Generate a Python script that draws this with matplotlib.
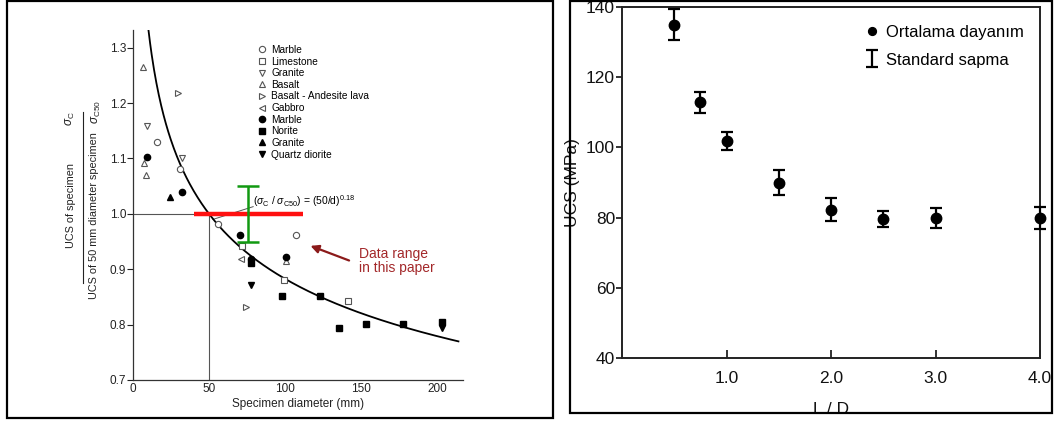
import numpy as np
import matplotlib
matplotlib.use("Agg")
import matplotlib.pyplot as plt
from matplotlib.patches import Rectangle
from matplotlib.lines import Line2D

plt.rcParams['font.family'] = ['Liberation Sans', 'DejaVu Sans']
plt.rcParams['mathtext.fontset'] = 'custom'
plt.rcParams['mathtext.rm'] = 'Liberation Sans'
plt.rcParams['mathtext.it'] = 'Liberation Sans:italic'

W, H = 1056, 423

# ---- left panel data (specimen diameter, normalised UCS) ----
marble_open_d = [15.6, 30.9, 55.7, 107]
marble_open_r = [1.13, 1.081, 0.981, 0.961]
limestone_d = [71.9, 99.5, 141.6]
limestone_r = [0.942, 0.881, 0.842]
granite_open_d = [9.0, 32]
granite_open_r = [1.158, 1.10]
basalt_d = [6.3, 7.2, 8.3, 100.6]
basalt_r = [1.266, 1.092, 1.07, 0.914]
andesite_d = [29.8, 74]
andesite_r = [1.219, 0.832]
gabbro_d = [71]
gabbro_r = [0.918]
marble_fill_d = [9.0, 32, 70.4, 100.6, 77.4]
marble_fill_r = [1.102, 1.039, 0.962, 0.922, 0.918]
norite_d = [77.4, 97.8, 123, 135.5, 153, 177.4, 203]
norite_r = [0.912, 0.852, 0.851, 0.794, 0.801, 0.801, 0.804]
granite_fill_d = [24.3]
granite_fill_r = [1.031]
quartz_d = [77.4, 203]
quartz_r = [0.872, 0.794]

curve_exp = 0.18
red_range = [40, 112]
green_d = 75.4
green_err = 0.05

# ---- right panel data ----
ld = [0.5, 0.75, 1.0, 1.5, 2.0, 2.5, 3.0, 4.0]
ucs = [135.0, 112.8, 101.8, 90.0, 82.2, 79.6, 79.8, 79.8]
ucs_sd = [4.5, 3.0, 2.6, 3.7, 3.3, 2.4, 2.8, 3.1]


def fx(px):
    return px / W


def fy(py):
    return 1 - py / H


fig = plt.figure(figsize=(W / 100, H / 100), dpi=100)

# panel frames
fig.add_artist(Rectangle((fx(7), fy(418)), fx(553) - fx(7), fy(1) - fy(418),
                         transform=fig.transFigure, fill=False, lw=1.6, ec='black'))
fig.add_artist(Rectangle((fx(570), fy(413)), fx(1052) - fx(570), fy(1) - fy(413),
                         transform=fig.transFigure, fill=False, lw=1.6, ec='black'))

# ================= left panel =================
ax1 = fig.add_axes([fx(133), fy(380), fx(463) - fx(133), fy(30) - fy(380)])
ax1.set_xlim(0, 217)
ax1.set_ylim(0.7, 1.332)
for s in ['top', 'right']:
    ax1.spines[s].set_visible(False)
for s in ['left', 'bottom']:
    ax1.spines[s].set_color('#333333')
    ax1.spines[s].set_linewidth(0.9)
ax1.set_xticks([0, 50, 100, 150, 200])
ax1.set_yticks([0.7, 0.8, 0.9, 1.0, 1.1, 1.2, 1.3])
ax1.set_yticklabels(['0.7', '0.8', '0.9', '1.0', '1.1', '1.2', '1.3'])
ax1.tick_params(axis='y', direction='out', length=4, width=0.8, pad=1,
                labelsize=8.5, colors='#222222')
ax1.tick_params(axis='x', length=0, pad=2, labelsize=8.5, colors='#222222')
ax1.set_xlabel('Specimen diameter (mm)', fontsize=8.5, labelpad=2, color='#222222')

d = np.linspace(6, 214, 400)
ax1.plot(d, (50 / d) ** curve_exp, color='black', lw=1.3, zorder=3)
ax1.plot([0, 50], [1.0, 1.0], color='#555555', lw=0.8, zorder=2)
ax1.plot([50, 50], [0.7, 1.0], color='#555555', lw=0.8, zorder=2)
ax1.plot([52.6, 79], [0.99, 1.013], color='#555555', lw=0.7, zorder=2)

ms = 4.5
oc = '#555555'
ax1.plot(marble_open_d, marble_open_r, 'o', ms=ms, mfc='white', mec=oc, mew=0.8, label='Marble', zorder=4)
ax1.plot(limestone_d, limestone_r, 's', ms=ms, mfc='white', mec=oc, mew=0.8, label='Limestone', zorder=4)
ax1.plot(granite_open_d, granite_open_r, 'v', ms=ms, mfc='white', mec=oc, mew=0.8, label='Granite', zorder=4)
ax1.plot(basalt_d, basalt_r, '^', ms=ms, mfc='white', mec=oc, mew=0.8, label='Basalt', zorder=4)
ax1.plot(andesite_d, andesite_r, '>', ms=ms, mfc='white', mec=oc, mew=0.8, label='Basalt - Andesite lava', zorder=4)
ax1.plot(gabbro_d, gabbro_r, '<', ms=ms, mfc='white', mec=oc, mew=0.8, label='Gabbro', zorder=4)
ax1.plot(marble_fill_d, marble_fill_r, 'o', ms=ms, color='black', label='Marble', zorder=4)
ax1.plot(norite_d, norite_r, 's', ms=ms, color='black', label='Norite', zorder=4)
ax1.plot(granite_fill_d, granite_fill_r, '^', ms=ms, color='black', label='Granite', zorder=4)
ax1.plot(quartz_d, quartz_r, 'v', ms=ms, color='black', label='Quartz diorite', zorder=4)

ax1.legend(loc='upper left', bbox_to_anchor=(fx(258), fy(45)), bbox_transform=fig.transFigure,
           frameon=False, fontsize=7.3, handlelength=0.8, handletextpad=0.5,
           labelspacing=0.16, borderpad=0, borderaxespad=0)

# red range line and green bar
ax1.plot(red_range, [1.0, 1.0], color='#ff1010', lw=3.2, solid_capstyle='butt', zorder=5)
ax1.errorbar([green_d], [1.0], yerr=[green_err], fmt='none', ecolor='#119911',
             elinewidth=1.8, capsize=8, capthick=1.8, zorder=6)

ax1.text(79, 1.023, r'($\sigma_\mathrm{C}$ / $\sigma_\mathrm{C50}$) = (50/d)$^{0.18}$',
         fontsize=7.5, va='center', ha='left', zorder=7)

ax1.annotate('', xy=(115, 0.944), xytext=(143.8, 0.914),
             arrowprops=dict(arrowstyle='-|>', color='#8b1a1a', lw=1.6, mutation_scale=12))
ax1.text(148.8, 0.941, 'Data range\nin this paper', color='#a3282a', fontsize=10,
         va='top', ha='left', linespacing=1.08)

# stacked y label of left panel
fig.text(fx(71), fy(205), 'UCS of specimen', rotation=90, fontsize=7.8,
         ha='center', va='center', color='#222222')
fig.text(fx(70), fy(119), r'$\sigma_\mathrm{C}$', rotation=90, fontsize=8.5,
         ha='center', va='center', color='#222222')
fig.add_artist(Line2D([fx(83), fx(83)], [fy(112), fy(283)], transform=fig.transFigure,
                      color='#222222', lw=0.8))
fig.text(fx(94), fy(216), 'UCS of 50 mm diameter specimen', rotation=90, fontsize=7.8,
         ha='center', va='center', color='#222222')
fig.text(fx(96), fy(112), r'$\sigma_\mathrm{C50}$', rotation=90, fontsize=8.5,
         ha='center', va='center', color='#222222')

# ================= right panel =================
ax2 = fig.add_axes([fx(622), fy(358), fx(1040) - fx(622), fy(7) - fy(358)])
ax2.set_xlim(0, 4.0)
ax2.set_ylim(40, 140)
for s in ax2.spines.values():
    s.set_linewidth(1.4)
    s.set_color('#222222')
ax2.set_xticks([1.0, 2.0, 3.0, 4.0])
ax2.set_xticklabels(['1.0', '2.0', '3.0', '4.0'])
ax2.set_yticks([40, 60, 80, 100, 120, 140])
ax2.tick_params(axis='x', direction='in', length=6, width=1.2, pad=9, labelsize=12.5, colors='#111111')
ax2.tick_params(axis='y', direction='out', length=4, width=1.2, pad=1, labelsize=12.5, colors='#111111')
ax2.set_xlabel('L / D', fontsize=12.5, color='#111111')
ax2.xaxis.set_label_coords(0.5, -0.125)
ax2.set_ylabel('UCS (MPa)', fontsize=12.5, color='#111111')
ax2.yaxis.set_label_coords(-0.10, 0.5)

ax2.plot(ld, ucs, 'o', ms=7.5, color='black', clip_on=False, zorder=4,
         label='Ortalama dayanım')
ax2.errorbar(ld, ucs, yerr=ucs_sd, fmt='none', ecolor='black', elinewidth=1.6,
             capsize=4.5, capthick=1.6, clip_on=False, zorder=3, label='Standard sapma')

ax2.legend(loc='upper left', bbox_to_anchor=(fx(864), fy(25)), bbox_transform=fig.transFigure,
           frameon=False, fontsize=12, handlelength=0.9, handletextpad=0.4,
           labelspacing=0.75, borderpad=0, borderaxespad=0, markerscale=0.75)

fig.savefig('out.png', dpi=100)
